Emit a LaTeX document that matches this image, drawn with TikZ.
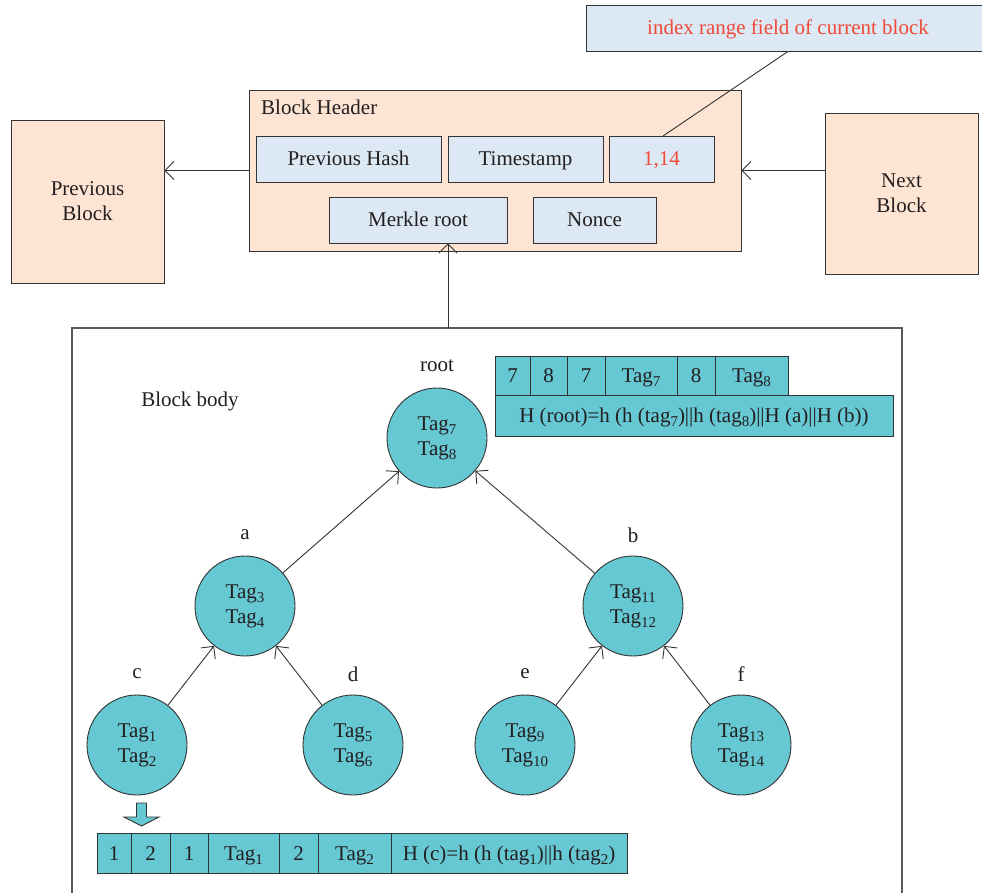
\documentclass[tikz,border=0pt]{standalone}
\usepackage{fontspec}
\setmainfont{Liberation Serif}
\usetikzlibrary{arrows.meta}
\definecolor{cteal}{HTML}{65C8D3}
\definecolor{cblue}{HTML}{DCE8F3}
\definecolor{cpeach}{HTML}{FDE4D3}
\definecolor{cred}{HTML}{EF4A36}
\definecolor{ctext}{HTML}{231F20}
\definecolor{cline}{HTML}{333333}
\newcommand\sbs[1]{\raisebox{-0.45ex}{\fontsize{15}{15}\selectfont #1}}
\begin{document}
\begin{tikzpicture}[x=1pt,y=-1pt,
  every node/.style={text=ctext,font=\fontsize{21}{25}\selectfont},
  field/.style={draw=cline,line width=0.9pt,fill=cblue,inner sep=0pt,minimum height=46pt,text height=15pt,text depth=1pt},
  blockbox/.style={draw=cline,line width=0.9pt,fill=cpeach,inner sep=0pt},
  tnode/.style={circle,draw=cline,line width=0.9pt,fill=cteal,minimum size=100pt,inner sep=0pt,align=center},
  cell/.style={draw=cline,line width=0.9pt,fill=cteal,inner sep=0pt,text height=15pt,text depth=1pt},
  arr/.style={draw=cline,line width=0.9pt,-{Straight Barb[length=9pt,width=18pt]}},
  lbl/.style={inner sep=0pt}
]
\clip (0,0) rectangle (982,893);
\fill[white] (0,0) rectangle (982,893);

% index range callout
\node[field,minimum width=404pt,text=cred] (idx) at (788,28) {index range field of current block};

% block header
\node[blockbox,minimum width=492pt,minimum height=161pt] (hdr) at (495,170.5) {};
\node[lbl,anchor=west] (hdrt) at (261,107) {Block Header};
\node[field,minimum width=185pt] (ph) at (348.5,159) {Previous Hash};
\node[field,minimum width=155pt] (ts) at (525.5,159) {Timestamp};
\node[field,minimum width=105pt,text=cred] (ir) at (661.5,159) {1,14};
\node[field,minimum width=178pt] (mr) at (418,220) {Merkle root};
\node[field,minimum width=123pt] (nn) at (594.5,220) {Nonce};

% neighbour blocks
\node[blockbox,minimum width=153pt,minimum height=163pt,align=center] (prev) at (87.5,201.5) {Previous\\Block};
\node[blockbox,minimum width=153pt,minimum height=161pt,align=center] (next) at (901.5,193.5) {Next\\Block};

\coordinate (irc) at (663,136);
\draw[draw=cline,line width=0.9pt] (irc) -- (idx.south);
\draw[arr] (hdr.west) -- (prev.east |- hdr.west);
\draw[arr] (next.west |- hdr.east) -- (hdr.east);

% block body frame
\node[draw=black!65,line width=1.2pt,minimum width=830pt,minimum height=640pt,inner sep=0pt] (body) at (487,648) {};
\node[lbl] (bodyt) at (190,401) {Block body};
\coordinate (bt) at (448,328);
\draw[arr] (bt) -- (bt |- mr.south);

% tree
\node[tnode] (root) at (437,438) {Tag\sbs{7}\\Tag\sbs{8}};
\node[tnode] (a) at (245,606) {Tag\sbs{3}\\Tag\sbs{4}};
\node[tnode] (b) at (633,606) {Tag\sbs{11}\\Tag\sbs{12}};
\node[tnode] (c) at (137,745) {Tag\sbs{1}\\Tag\sbs{2}};
\node[tnode] (d) at (353,745) {Tag\sbs{5}\\Tag\sbs{6}};
\node[tnode] (e) at (525,745) {Tag\sbs{9}\\Tag\sbs{10}};
\node[tnode] (f) at (741,745) {Tag\sbs{13}\\Tag\sbs{14}};

\node[lbl] (lroot) at (437,366) {root};
\node[lbl] (la) at (245,535) {a};
\node[lbl] (lb) at (633,535) {b};
\node[lbl] (lc) at (137,674) {c};
\node[lbl] (ld) at (353,674) {d};
\node[lbl] (le) at (525,674) {e};
\node[lbl] (lf) at (741,674) {f};

\draw[arr] (a) -- (root);
\draw[arr] (b) -- (root);
\draw[arr] (c) -- (a);
\draw[arr] (d) -- (a);
\draw[arr] (e) -- (b);
\draw[arr] (f) -- (b);

% root table
\node[cell,minimum width=35pt,minimum height=39pt] (r1) at (512.5,375.5) {7};
\node[cell,minimum width=37pt,minimum height=39pt] (r2) at (548.5,375.5) {8};
\node[cell,minimum width=38pt,minimum height=39pt] (r3) at (586,375.5) {7};
\node[cell,minimum width=72pt,minimum height=39pt] (r4) at (641,375.5) {Tag\sbs{7}};
\node[cell,minimum width=38pt,minimum height=39pt] (r5) at (696,375.5) {8};
\node[cell,minimum width=73pt,minimum height=39pt] (r6) at (751.5,375.5) {Tag\sbs{8}};
\node[cell,minimum width=398pt,minimum height=41pt] (r7) at (694,415.5) {H (root)=h (h (tag\sbs{7})||h (tag\sbs{8})||H (a)||H (b))};

% leaf table
\draw[draw=cline,line width=0.9pt,fill=cteal] (136.5,803) -- (146.5,803) -- (146.5,817) -- (159,817) -- (141.5,826) -- (124,817) -- (136.5,817) -- cycle;
\node[cell,minimum width=34pt,minimum height=40pt] (c1) at (114,853) {1};
\node[cell,minimum width=39pt,minimum height=40pt] (c2) at (150.5,853) {2};
\node[cell,minimum width=38pt,minimum height=40pt] (c3) at (189,853) {1};
\node[cell,minimum width=71pt,minimum height=40pt] (c4) at (243.5,853) {Tag\sbs{1}};
\node[cell,minimum width=39pt,minimum height=40pt] (c5) at (298.5,853) {2};
\node[cell,minimum width=73pt,minimum height=40pt] (c6) at (354.5,853) {Tag\sbs{2}};
\node[cell,minimum width=236pt,minimum height=40pt] (c7) at (509,853) {H (c)=h (h (tag\sbs{1})||h (tag\sbs{2})};
\end{tikzpicture}
\end{document}
